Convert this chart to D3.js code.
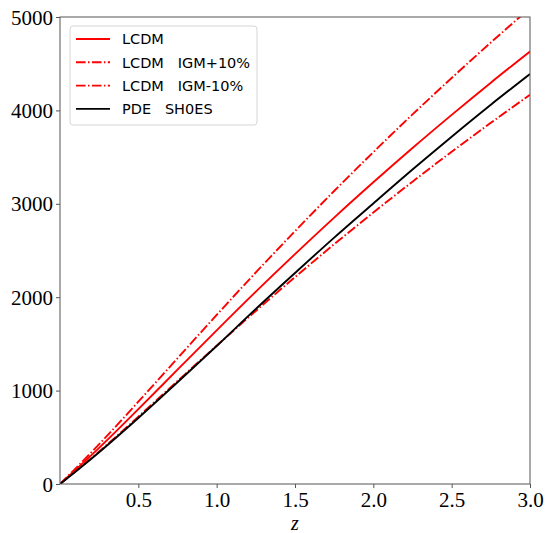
<!DOCTYPE html>
<html>
<head>
<meta charset="utf-8">
<script src="https://cdn.jsdelivr.net/npm/d3@7"></script>
<style>
  body { margin: 0; background: #fff; }
  text { white-space: pre; }
</style>
</head>
<body>
<div id="chart"></div>
<script>
// Data
const zVals = [0, 0.25, 0.5, 0.75, 1.0, 1.25, 1.5, 1.75, 2.0, 2.25, 2.5, 2.75, 3.0];
const lcdm = [0, 387, 801, 1224, 1645, 2059, 2461, 2852, 3230, 3597, 3952, 4297, 4631];
const lcdmPlus = [0, 426, 881, 1346, 1810, 2265, 2707, 3137, 3553, 3957, 4347, 4727, 5094];
const lcdmMinus = [0, 348, 721, 1102, 1481, 1853, 2215, 2567, 2907, 3237, 3557, 3867, 4168];
const pdeShoes = [0, 341, 707, 1089, 1477, 1874, 2259, 2638, 3004, 3367, 3719, 4061, 4390];

const xTicks = [0.5, 1.0, 1.5, 2.0, 2.5, 3.0];
const yTicks = [0, 1000, 2000, 3000, 4000, 5000];

const series = [
  {name: 'LCDM', values: lcdm, color: '#ff0000', dash: null},
  {name: 'LCDM   IGM+10%', values: lcdmPlus, color: '#ff0000', dash: '9.6,2.4,1.5,2.4'},
  {name: 'LCDM   IGM-10%', values: lcdmMinus, color: '#ff0000', dash: '9.6,2.4,1.5,2.4'},
  {name: 'PDE   SH0ES', values: pdeShoes, color: '#000000', dash: null}
];

const width = 546, height = 533;
const margin = {top: 17, right: 16, bottom: 49, left: 60};
const serif = '"Liberation Serif", "DejaVu Serif", serif';

const svg = d3.select('#chart')
  .append('svg')
  .attr('width', width)
  .attr('height', height);

const xScale = d3.scaleLinear().domain([0, 3]).range([margin.left, width - margin.right]);
const yScale = d3.scaleLinear().domain([0, 5000]).range([height - margin.bottom, margin.top]);

svg.append('clipPath').attr('id', 'clip')
  .append('rect')
  .attr('x', margin.left)
  .attr('y', margin.top)
  .attr('width', width - margin.left - margin.right)
  .attr('height', height - margin.top - margin.bottom);

// Curves
const line = d3.line()
  .x((d, i) => xScale(zVals[i]))
  .y(d => yScale(d))
  .curve(d3.curveMonotoneX);

svg.append('g')
  .attr('clip-path', 'url(#clip)')
  .selectAll('path.curve')
  .data(series)
  .enter().append('path')
  .attr('class', 'curve')
  .attr('d', d => line(d.values))
  .attr('fill', 'none')
  .attr('stroke', d => d.color)
  .attr('stroke-width', 1.9)
  .attr('stroke-dasharray', d => d.dash);

// Frame
svg.append('rect')
  .attr('x', margin.left)
  .attr('y', margin.top)
  .attr('width', width - margin.left - margin.right)
  .attr('height', height - margin.top - margin.bottom)
  .attr('fill', 'none')
  .attr('stroke', '#555')
  .attr('stroke-width', 1);

// Axes
const xAxis = svg.append('g')
  .attr('transform', `translate(0,${height - margin.bottom})`)
  .call(d3.axisBottom(xScale).tickValues(xTicks).tickFormat(d3.format('.1f')).tickSize(4).tickPadding(4));
const yAxis = svg.append('g')
  .attr('transform', `translate(${margin.left},0)`)
  .call(d3.axisLeft(yScale).tickValues(yTicks).tickFormat(d3.format('d')).tickSize(4).tickPadding(3));

[xAxis, yAxis].forEach(ax => {
  ax.attr('font-family', serif).attr('font-size', 20);
  ax.select('.domain').remove();
  ax.selectAll('line').attr('stroke', '#555');
  ax.selectAll('text')
    .attr('fill', '#000')
    .style('font-family', serif)
    .style('font-size', '21px');
});
yAxis.selectAll('text').attr('dy', '0.34em');

svg.append('text')
  .attr('x', xScale(1.5))
  .attr('y', 530)
  .attr('text-anchor', 'middle')
  .style('font-family', serif)
  .style('font-style', 'italic')
  .style('font-size', '20px')
  .text('z');

// Legend
const legend = svg.append('g').attr('transform', 'translate(70,26)');
legend.append('rect')
  .attr('width', 187)
  .attr('height', 99)
  .attr('rx', 3)
  .attr('fill', '#fff')
  .attr('fill-opacity', 0.8)
  .attr('stroke', '#d5d5d5');

const items = legend.selectAll('g.item')
  .data(series)
  .enter().append('g')
  .attr('class', 'item')
  .attr('transform', (d, i) => `translate(0,${13 + i * 23.3})`);
items.append('line')
  .attr('x1', 6).attr('x2', 40)
  .attr('stroke', d => d.color)
  .attr('stroke-width', 1.9)
  .attr('stroke-dasharray', d => d.dash);
items.append('text')
  .attr('x', 52)
  .attr('dy', '0.36em')
  .style('font-family', '"DejaVu Sans", sans-serif')
  .style('font-size', '14.5px')
  .text(d => d.name);
</script>
</body>
</html>
